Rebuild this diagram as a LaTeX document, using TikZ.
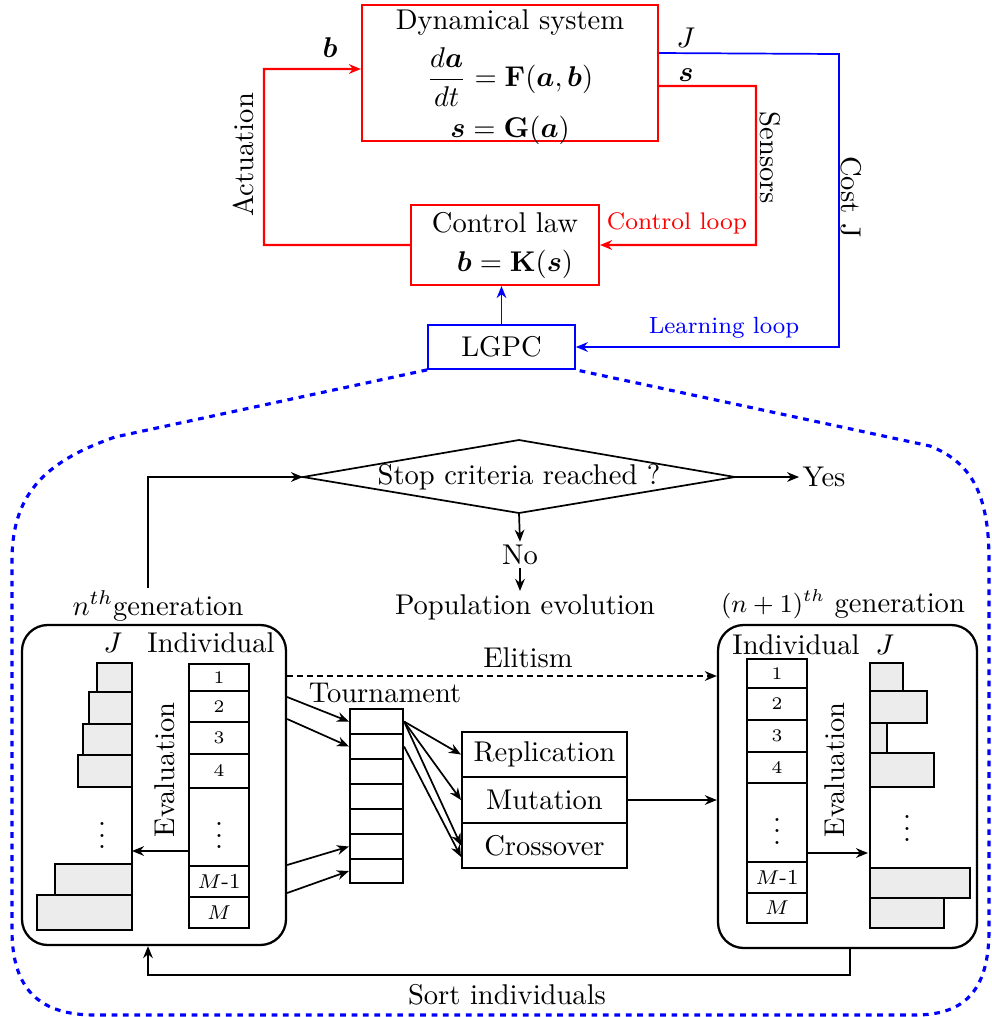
\documentclass[tikz,border=0pt]{standalone}
\usepackage{amsmath,bm}
\usetikzlibrary{arrows.meta}
\newcommand\rectnode[6]{\node[#1,minimum width={(#5-#3)*0.35pt},minimum height={(#6-#4)*0.35pt}] (#2) at ({(#3+#5)/2},{(#4+#6)/2})}
\begin{document}
\begin{tikzpicture}[x=0.35pt,y=-0.35pt,
 >={Stealth[length=4.2pt,width=3.4pt]},
 every node/.style={inner sep=1pt},
 redl/.style={draw=red,line width=0.75pt},
 bluel/.style={draw=blue,line width=0.6pt},
 blk/.style={draw=black,line width=0.6pt},
 redbox/.style={draw=red,line width=0.75pt,inner sep=0pt},
 bluebox/.style={draw=blue,line width=0.6pt,inner sep=0pt},
 genbox/.style={draw,rounded corners=9pt,line width=0.8pt,inner sep=0pt},
 cellst/.style={draw,line width=0.45pt,inner sep=0pt,font=\fontsize{6.2}{7}\selectfont},
 tcell/.style={draw,line width=0.75pt,inner sep=0pt},
 opst/.style={draw,line width=0.7pt,inner sep=0pt},
 bar/.style={draw,fill=gray!15,line width=0.5pt},
 smallred/.style={text=red,font=\fontsize{8.4}{10}\selectfont},
 smallblue/.style={text=blue,font=\fontsize{8.2}{10}\selectfont},
 ]
\useasboundingbox (0,0) rectangle (992,1017);
% ---------- top: control loop ----------
\rectnode{redbox}{dyn}{362}{5}{658}{141}{};
\node (dyntitle) at (510,23) {Dynamical system};
\node (dyneq) at (510,77) {$\displaystyle\frac{d\bm a}{dt}=\mathbf F(\bm a,\bm b)$};
\node (dynout) at (510,130) {$\bm s=\mathbf G(\bm a)$};
\rectnode{redbox}{ctrl}{411}{205}{599}{285}{};
\node (ctrltitle) at (505,223) {Control law};
\node (ctrleq) at (515,264) {$\bm b=\mathbf K(\bm s)$};
\rectnode{bluebox}{lgpc}{428}{325}{575}{369}{LGPC};
\draw[redl,->] (ctrl.west) -| (264,69) -- ([yshift=1.4pt]dyn.west);
\draw[redl,->] ([yshift=-4.55pt]dyn.east) -- (756,86) -- (756,245) -- (ctrl.east);
\draw[bluel,->] ([yshift=7pt]dyn.east) -- (839,54) -- (839,347) -- (lgpc.east);
\draw[bluel,->] (lgpc.north) -- (lgpc.north |- ctrl.south);
\node (lb) at (330,48) {$\bm b$};
\node (lJ) at (686,38) {$J$};
\node (ls) at (686,75) {$\bm s$};
\node[rotate=90] (act) at (243,155) {Actuation};
\node[rotate=-90] (sens) at (770,158) {Sensors};
\node[rotate=-90] (cost) at (851,197) {Cost J};
\node[smallred] (cloop) at (677,223) {Control loop};
\node[smallblue] (lloop) at (724,328) {Learning loop};
% ---------- dashed outline ----------
\draw[blue,line width=1.1pt,dash pattern=on 2pt off 2pt]
 (lgpc.south west) -- (115,437) .. controls (50,460) and (12,490) .. (12,560)
 -- (12,930) .. controls (12,990) and (40,1015) .. (95,1015)
 -- (915,1015) .. controls (965,1015) and (989,990) .. (989,930)
 -- (989,560) .. controls (989,492) and (970,462) .. (930,446) -- (lgpc.south east);
% ---------- stop criterion ----------
\node (stop) at (519,477) {Stop criteria reached ?};
\draw[blk] (303,477) coordinate (dw) -- (519,440) coordinate (dn) -- (735,477) coordinate (de) -- (519,513) coordinate (ds) -- cycle;
\node (yes) at (824,477) {Yes};
\draw[blk,->] (de) -- (yes.west);
\node (no) at (520,555) {No};
\draw[blk,->] (ds) -- (no.north);
\node (pop) at (525,607) {Population evolution};
\draw[blk,->] (no.south) -- (no.south |- pop.north);
\node (ngen) at (158,606) {$n^{th}$generation};
\draw[blk,->] ([xshift=-3.5pt]ngen.north) |- (dw);
\node (n1gen) at (843,604) {{\small$(n+1)^{th}$} generation};
% ---------- left generation ----------
\rectnode{genbox}{lbox}{22}{625}{286}{945}{};
\node (lJt) at (113,643) {$J$};
\node (lInd) at (211,643) {Individual};
\rectnode{cellst}{L1}{189}{664}{249}{691}{1};
\rectnode{cellst}{L2}{189}{691}{249}{722}{2};
\rectnode{cellst}{L3}{189}{722}{249}{754}{3};
\rectnode{cellst}{L4}{189}{754}{249}{788}{4};
\rectnode{cellst}{Ld}{189}{788}{249}{866}{\normalsize$\vdots$};
\rectnode{cellst}{LM1}{189}{866}{249}{897}{\fontsize{7.5}{8}\selectfont$M$-1};
\rectnode{cellst}{LM}{189}{897}{249}{928}{\fontsize{7.5}{8}\selectfont$M$};
\draw[bar] (97,663) rectangle (132,692);
\draw[bar] (89,692) rectangle (132,724);
\draw[bar] (83,724) rectangle (132,755);
\draw[bar] (78,755) rectangle (132,787);
\draw[blk,line width=0.5pt] (132,787) -- (132,864);
\node (ldots) at (102,827) {$\vdots$};
\draw[bar] (55,864) rectangle (132,895);
\draw[bar] (37,895) rectangle (132,930);
\coordinate (lbar) at (132,851);
\draw[blk,->] (Ld.west |- lbar) -- (lbar);
\node[rotate=90] (leval) at (165,770) {Evaluation};
% ---------- right generation ----------
\rectnode{genbox}{rbox}{718}{625}{977}{948}{};
\node (rInd) at (796,645) {Individual};
\node (rJt) at (885,645) {$J$};
\rectnode{cellst}{R1}{747}{659}{807}{688}{1};
\rectnode{cellst}{R2}{747}{688}{807}{720}{2};
\rectnode{cellst}{R3}{747}{720}{807}{752}{3};
\rectnode{cellst}{R4}{747}{752}{807}{783}{4};
\rectnode{cellst}{Rd}{747}{783}{807}{862}{\normalsize$\vdots$};
\rectnode{cellst}{RM1}{747}{862}{807}{893}{\fontsize{7.5}{8}\selectfont$M$-1};
\rectnode{cellst}{RM}{747}{893}{807}{923}{\fontsize{7.5}{8}\selectfont$M$};
\draw[bar] (870,663) rectangle (903,691);
\draw[bar] (870,691) rectangle (927,723);
\draw[bar] (870,723) rectangle (887,753);
\draw[bar] (870,753) rectangle (934,787);
\draw[blk,line width=0.5pt] (870,787) -- (870,868);
\node (rdots) at (907,820) {$\vdots$};
\draw[bar] (870,868) rectangle (970,898);
\draw[bar] (870,898) rectangle (944,928);
\coordinate (rbar) at (868,853);
\draw[blk,->] (Rd.east |- rbar) -- (rbar);
\node[rotate=90] (reval) at (835,770) {Evaluation};
% ---------- elitism, tournament, operators ----------
\draw[blk,->,dash pattern=on 2pt off 1.5pt] (lbox.east |- 0,676) -- (rbox.west |- 0,676);
\node (elit) at (528,658) {Elitism};
\node (tour) at (385,693) {Tournament};
\rectnode{tcell}{T1}{350}{709}{403}{734}{};
\rectnode{tcell}{T2}{350}{734}{403}{759}{};
\rectnode{tcell}{T3}{350}{759}{403}{784}{};
\rectnode{tcell}{T4}{350}{784}{403}{809}{};
\rectnode{tcell}{T5}{350}{809}{403}{834}{};
\rectnode{tcell}{T6}{350}{834}{403}{859}{};
\rectnode{tcell}{T7}{350}{859}{403}{883}{};
\draw[blk,->] (lbox.east |- 0,697) -- (T1.west);
\draw[blk,->] (lbox.east |- 0,719) -- (T2.west);
\draw[blk,->] (lbox.east |- 0,865) -- (T6.west);
\draw[blk,->] (lbox.east |- 0,893) -- (T7.west);
\rectnode{opst}{rep}{462}{732}{627}{777}{Replication};
\rectnode{opst}{mut}{462}{777}{627}{823}{Mutation};
\rectnode{opst}{cross}{462}{823}{627}{868}{Crossover};
\draw[blk,->] (T1.east) -- (rep.west);
\draw[blk,->] (T1.east) -- (mut.west);
\draw[blk,->] (T1.east) -- (cross.west);
\draw[blk,->] (T2.east) -- ([yshift=-4pt]cross.west);
\draw[blk,->] (mut.east) -- (rbox.west |- mut.east);
% ---------- sort ----------
\coordinate (s1) at (850,975);
\coordinate (s2) at (148,975);
\draw[blk,->] (rbox.south -| s1) -- (s1) -- (s2) -- (lbox.south -| s2);
\node (sort) at (507,995) {Sort individuals};
\end{tikzpicture}
\end{document}
